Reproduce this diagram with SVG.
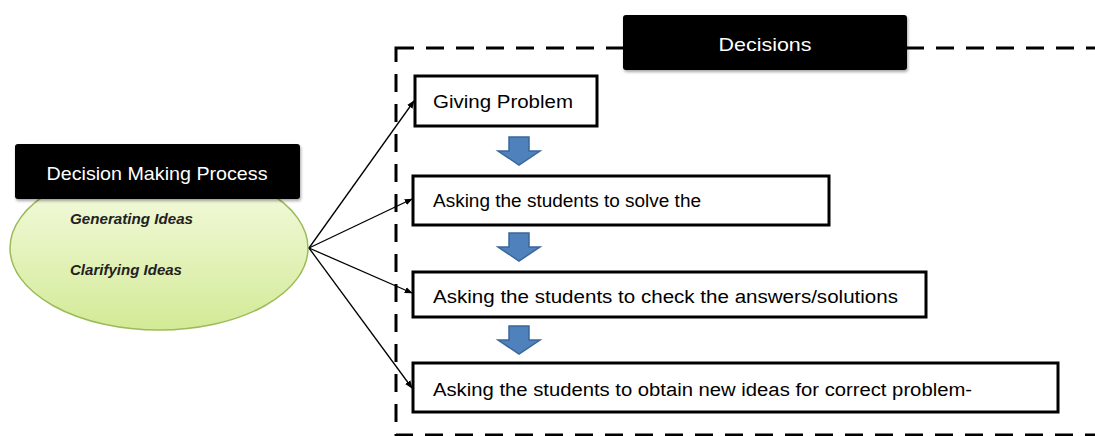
<svg xmlns="http://www.w3.org/2000/svg" width="1095" height="436" viewBox="0 0 1095 436">
<defs>
<linearGradient id="eg" x1="0" y1="0" x2="0" y2="1">
<stop offset="0" stop-color="#f7fce6"/>
<stop offset="1" stop-color="#d3ea96"/>
</linearGradient>
<filter id="sh" x="-10%" y="-20%" width="120%" height="150%">
<feDropShadow dx="1" dy="2" stdDeviation="1.5" flood-color="#000" flood-opacity="0.35"/>
</filter>
<marker id="ah" viewBox="0 0 10 10" refX="9" refY="5" markerWidth="8" markerHeight="8" orient="auto" markerUnits="userSpaceOnUse">
<path d="M0,1 L10,5 L0,9 z" fill="#000"/>
</marker>
<path id="blk" d="M-10,0 H10 V14 H21 L0,28 L-21,14 H-10 Z"/>
</defs>
<style>
.hdr{fill:#000;filter:url(#sh)}
.hdrt{fill:#fff;font-family:"Liberation Sans",Arial,sans-serif;font-size:19px;text-anchor:middle}
.box{fill:#fff;stroke:#000;stroke-width:3}
.bt{fill:#000;font-family:"Liberation Sans",Arial,sans-serif;font-size:18px}
.it{fill:#222;font-family:"Liberation Sans",Arial,sans-serif;font-size:14px;font-style:italic;font-weight:bold}
.conn{stroke:#000;stroke-width:1.3;fill:none;marker-end:url(#ah)}
.blue{fill:#4f81bd;stroke:#3a679c;stroke-width:1.5}
.dash{fill:none;stroke:#000;stroke-width:3;stroke-dasharray:18 12}
</style>
<rect class="dash" x="396" y="48" width="760" height="387"/>
<g id="ellipse-node">
<ellipse cx="159" cy="248" rx="149" ry="82" fill="url(#eg)" stroke="#9bbb59" stroke-width="1.5"/>
<text class="it" x="70" y="224" textLength="123" lengthAdjust="spacingAndGlyphs">Generating Ideas</text>
<text class="it" x="70" y="275" textLength="112" lengthAdjust="spacingAndGlyphs">Clarifying Ideas</text>
</g>
<g id="dmp">
<rect class="hdr" x="15" y="144" width="285" height="55" rx="3"/>
<text class="hdrt" x="157" y="180" textLength="221" lengthAdjust="spacingAndGlyphs">Decision Making Process</text>
</g>
<g id="decisions">
<rect class="hdr" x="623" y="15" width="284" height="55" rx="3"/>
<text class="hdrt" x="765" y="51" textLength="93" lengthAdjust="spacingAndGlyphs">Decisions</text>
</g>
<g id="n1">
<rect class="box" x="415" y="76" width="182" height="50"/>
<text class="bt" x="433" y="108" textLength="140" lengthAdjust="spacingAndGlyphs">Giving Problem</text>
</g>
<g id="n2">
<rect class="box" x="413" y="176" width="416" height="49"/>
<text class="bt" x="433" y="207" textLength="268" lengthAdjust="spacingAndGlyphs">Asking the students to solve the</text>
</g>
<g id="n3">
<rect class="box" x="413" y="272" width="513" height="45"/>
<text class="bt" x="433" y="303" textLength="465" lengthAdjust="spacingAndGlyphs">Asking the students to check the answers/solutions</text>
</g>
<g id="n4">
<rect class="box" x="413" y="363" width="645" height="49"/>
<text class="bt" x="433" y="396" textLength="539" lengthAdjust="spacingAndGlyphs">Asking the students to obtain new ideas for correct problem-</text>
</g>
<g id="flow-arrows">
<use href="#blk" class="blue" transform="translate(519,137)"/>
<use href="#blk" class="blue" transform="translate(519,233)"/>
<use href="#blk" class="blue" transform="translate(519,326)"/>
</g>
<g id="connectors">
<line class="conn" x1="309" y1="248" x2="414" y2="101"/>
<line class="conn" x1="309" y1="248" x2="412" y2="199"/>
<line class="conn" x1="309" y1="248" x2="412" y2="293"/>
<line class="conn" x1="309" y1="248" x2="412" y2="388"/>
</g>
</svg>
